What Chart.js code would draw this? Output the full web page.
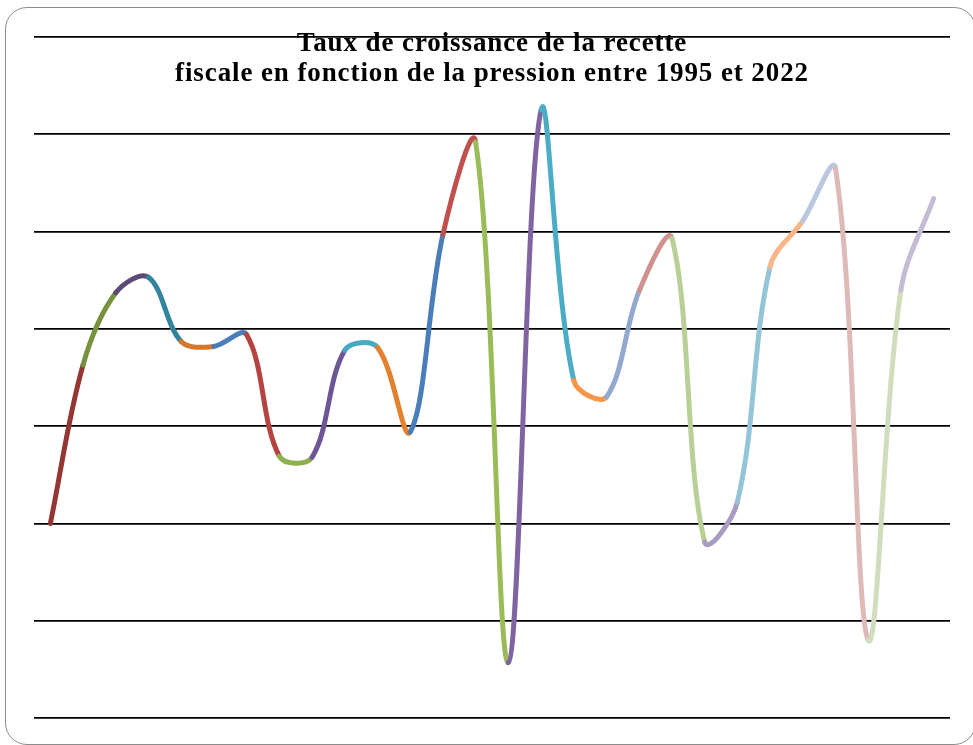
<!DOCTYPE html>
<html>
<head>
<meta charset="utf-8">
<script src="https://cdn.jsdelivr.net/npm/chart.js@4"></script>
<style>
  html, body { margin: 0; padding: 0; background: #fff; }
  #wrap { position: relative; width: 973px; height: 745px; overflow: hidden; }
  #frame { position: absolute; left: 5px; top: 7px; width: 971px; height: 738px;
           border: 1.5px solid #8c8c8c; border-radius: 22px; box-sizing: border-box; }
  #c { position: absolute; left: 0; top: 0; }
  #title { position: absolute; left: 42px; width: 900px; top: 27px; text-align: center;
           font-family: "Liberation Serif", "DejaVu Serif", serif; font-weight: bold;
           font-size: 27px; line-height: 30px; letter-spacing: 0.9px; color: #000; }
</style>
</head>
<body>
<div id="wrap">
  <div id="frame"></div>
  <canvas id="c" width="973" height="745"></canvas>
  <div id="title">Taux de croissance de la recette<br>fiscale en fonction de la pression entre 1995 et 2022</div>
</div>
<script>
const years = ["1995","1996","1997","1998","1999","2000","2001","2002","2003","2004",
               "2005","2006","2007","2008","2009","2010","2011","2012","2013","2014",
               "2015","2016","2017","2018","2019","2020","2021","2022"];
const growthRate = [-10.0, 6.3, 13.7, 15.3, 8.7, 8.2, 9.4, -3.1, -3.2, 7.8,
                    8.1, -0.6, 19.7, 29.2, -24.3, 32.5, 4.7, 3.0, 13.9, 19.3,
                    -11.9, -7.8, 16.4, 21.1, 26.5, -22.0, 14.0, 23.4];
const segmentColors = ["#943634","#76923C","#5F497A","#31849B","#D6782C","#4A7EBB",
                       "#B5433F","#8DB04E","#6E5596","#46AAC5","#E3812E","#4A7EBB",
                       "#C0504D","#9BBB59","#8064A2","#4BACC6","#F79646","#92A8CF",
                       "#D09290","#B8CF96","#AA9BC2","#93C4D8","#F8B68A","#B9C7E0",
                       "#DEB9B8","#CFDDBC","#C4BBD4"];
const yMin = -30, yMax = 40, yStep = 10;

new Chart(document.getElementById('c'), {
  type: 'line',
  data: {
    labels: years,
    datasets: [{
      data: growthRate,
      borderWidth: 5,
      borderCapStyle: 'round',
      borderJoinStyle: 'round',
      tension: 0.35,
      pointRadius: 0,
      fill: false,
      borderColor: segmentColors[0],
      segment: { borderColor: ctx => segmentColors[ctx.p0DataIndex] }
    }]
  },
  options: {
    responsive: false,
    animation: false,
    layout: { padding: { left: 34, right: 23, top: 37, bottom: 27 } },
    plugins: { legend: { display: false }, title: { display: false }, tooltip: { enabled: false } },
    scales: {
      x: { display: false, offset: true },
      y: {
        min: yMin, max: yMax,
        ticks: { display: false, stepSize: yStep },
        border: { display: false },
        grid: { color: '#000', lineWidth: 1.8, drawTicks: false }
      }
    }
  }
});
</script>
</body>
</html>
